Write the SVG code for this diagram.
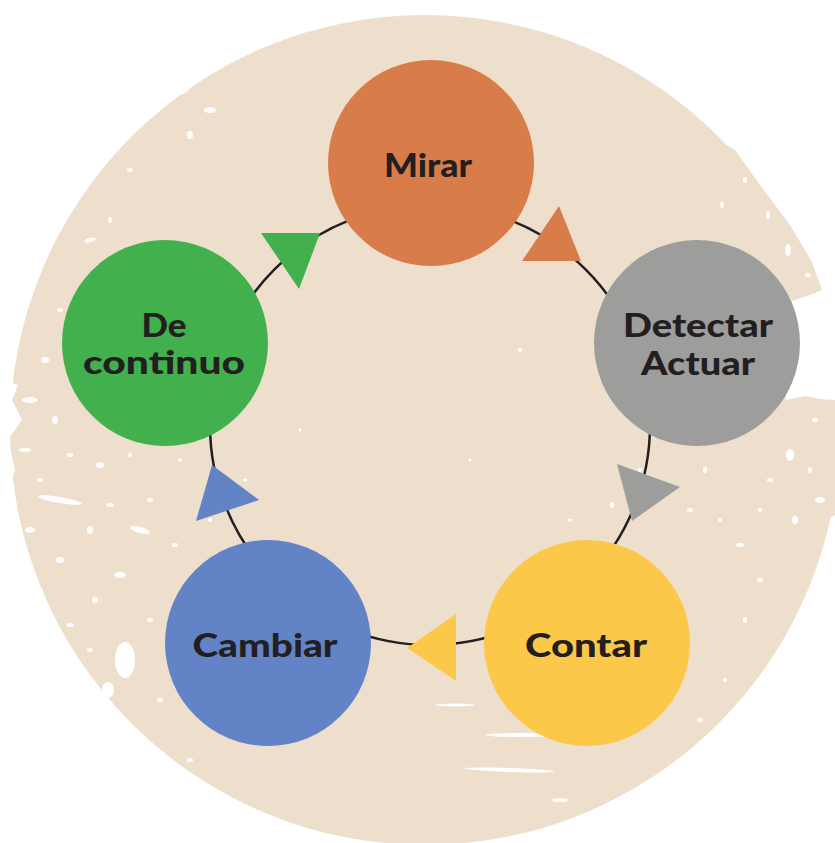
<svg xmlns="http://www.w3.org/2000/svg" width="835" height="843" viewBox="0 0 835 843">
<style>
.bg{fill:#EEDFCD}
.sp{fill:#FFFFFF}
.node circle{stroke:none}
.lbl{font-family:Lato,"Open Sans","Liberation Sans",sans-serif;font-weight:900;font-size:33px;fill:#231F20;text-anchor:middle}
.ring{fill:none;stroke:#231F20;stroke-width:2.5}
</style>
<rect width="835" height="843" fill="#FFFFFF"/>
<g id="background">
<circle class="bg" cx="425" cy="430" r="415"/>
<polygon class="bg" points="700,130 735,150 760,185 790,225 812,262 822,290 792,300 770,250"/>
<polygon class="sp" points="792,301 822,291 835,288 835,400 800,398 786,401"/>
<polygon class="bg" points="786,400 805,396 835,402 835,515 812,528 800,520"/>
<g class="sp">
<ellipse cx="788" cy="250" rx="3" ry="6"/>
<ellipse cx="768" cy="215" rx="2" ry="4"/>
<ellipse cx="808" cy="275" rx="3" ry="2"/>
<ellipse cx="745" cy="180" rx="2" ry="3"/>
<ellipse cx="760" cy="270" rx="2" ry="2"/>
<ellipse cx="780" cy="290" rx="3" ry="2"/>
<ellipse cx="722" cy="205" rx="2" ry="3"/>
<ellipse cx="815" cy="420" rx="3" ry="2"/>
<ellipse cx="790" cy="455" rx="4" ry="6"/>
<ellipse cx="810" cy="470" rx="2" ry="3"/>
<ellipse cx="770" cy="480" rx="3" ry="2"/>
<ellipse cx="820" cy="500" rx="5" ry="3"/>
<ellipse cx="760" cy="510" rx="2" ry="2"/>
<ellipse cx="795" cy="520" rx="3" ry="4"/>
<ellipse cx="740" cy="545" rx="4" ry="2"/>
<ellipse cx="705" cy="470" rx="2" ry="3"/>
<ellipse cx="690" cy="510" rx="3" ry="2"/>
<ellipse cx="720" cy="520" rx="2" ry="2"/>
<ellipse cx="760" cy="580" rx="3" ry="2"/>
<ellipse cx="745" cy="620" rx="2" ry="3"/>
<ellipse cx="700" cy="720" rx="3" ry="2"/>
<ellipse cx="725" cy="680" rx="2" ry="2"/>
<ellipse cx="640" cy="470" rx="2" ry="2"/>
<ellipse cx="612" cy="505" rx="2" ry="3"/>
<ellipse cx="570" cy="520" rx="2" ry="1.5"/>
<ellipse cx="520" cy="350" rx="2" ry="2"/>
<ellipse cx="470" cy="460" rx="1.5" ry="1.5"/>
<ellipse cx="300" cy="430" rx="1.5" ry="1.5"/>
<ellipse cx="510" cy="770" rx="45" ry="2" transform="rotate(2 510 770)"/>
<ellipse cx="520" cy="735" rx="35" ry="2"/>
<ellipse cx="455" cy="705" rx="20" ry="1.5"/>
<ellipse cx="560" cy="800" rx="8" ry="2"/>
<ellipse cx="175" cy="95" rx="14" ry="2" transform="rotate(-20 175 95)"/>
<ellipse cx="210" cy="110" rx="6" ry="3"/>
<ellipse cx="190" cy="135" rx="3" ry="4"/>
<ellipse cx="130" cy="170" rx="3" ry="2"/>
<ellipse cx="110" cy="220" rx="2" ry="3"/>
<ellipse cx="90" cy="240" rx="6" ry="2" transform="rotate(-15 90 240)"/>
<ellipse cx="60" cy="310" rx="3" ry="2"/>
<ellipse cx="45" cy="360" rx="4" ry="3"/>
<ellipse cx="30" cy="400" rx="8" ry="3"/>
<ellipse cx="55" cy="420" rx="3" ry="4"/>
<ellipse cx="25" cy="450" rx="6" ry="2"/>
<ellipse cx="70" cy="455" rx="3" ry="2"/>
<ellipse cx="100" cy="465" rx="4" ry="3"/>
<ellipse cx="40" cy="480" rx="3" ry="2"/>
<ellipse cx="130" cy="455" rx="2" ry="2"/>
<ellipse cx="60" cy="500" rx="22" ry="3" transform="rotate(10 60 500)"/>
<ellipse cx="110" cy="505" rx="4" ry="2"/>
<ellipse cx="30" cy="530" rx="5" ry="3"/>
<ellipse cx="90" cy="530" rx="3" ry="4"/>
<ellipse cx="140" cy="530" rx="10" ry="3" transform="rotate(15 140 530)"/>
<ellipse cx="60" cy="560" rx="4" ry="3"/>
<ellipse cx="120" cy="575" rx="6" ry="3"/>
<ellipse cx="40" cy="590" rx="3" ry="2"/>
<ellipse cx="95" cy="600" rx="3" ry="3"/>
<ellipse cx="150" cy="500" rx="3" ry="2"/>
<ellipse cx="175" cy="545" rx="3" ry="2"/>
<ellipse cx="70" cy="625" rx="4" ry="2"/>
<ellipse cx="125" cy="660" rx="10" ry="18"/>
<ellipse cx="108" cy="690" rx="6" ry="8"/>
<ellipse cx="150" cy="620" rx="3" ry="2"/>
<ellipse cx="90" cy="650" rx="3" ry="2"/>
<ellipse cx="160" cy="700" rx="3" ry="2"/>
<ellipse cx="190" cy="760" rx="3" ry="2"/>
<ellipse cx="210" cy="520" rx="2" ry="2"/>
<ellipse cx="245" cy="480" rx="2" ry="1.5"/>
<ellipse cx="180" cy="460" rx="2" ry="2"/>
</g>
<polygon class="sp" points="0,380 18,385 12,400 22,420 8,440 15,470 5,500 14,530 20,560 0,580"/>
</g>
<g id="connectors">
<circle class="ring" cx="430" cy="425" r="220"/>
</g>
<g id="node-mirar" class="node">
<circle cx="431" cy="163" r="103" fill="#D87C4A"/>
<text class="lbl" x="428" y="177" textLength="88" lengthAdjust="spacingAndGlyphs">Mirar</text>
</g>
<g id="node-detectar" class="node">
<circle cx="697" cy="343" r="103" fill="#9D9D9C"/>
<text class="lbl" x="698" y="337" textLength="150" lengthAdjust="spacingAndGlyphs">Detectar</text>
<text class="lbl" x="698" y="375" textLength="114" lengthAdjust="spacingAndGlyphs">Actuar</text>
</g>
<g id="node-contar" class="node">
<circle cx="587" cy="643" r="103" fill="#FBC84A"/>
<text class="lbl" x="586" y="657" textLength="122" lengthAdjust="spacingAndGlyphs">Contar</text>
</g>
<g id="node-cambiar" class="node">
<circle cx="268" cy="643" r="103" fill="#6283C5"/>
<text class="lbl" x="265" y="657" textLength="145" lengthAdjust="spacingAndGlyphs">Cambiar</text>
</g>
<g id="node-decontinuo" class="node">
<circle cx="165" cy="343" r="103" fill="#41B04D"/>
<text class="lbl" x="164" y="337" textLength="45" lengthAdjust="spacingAndGlyphs">De</text>
<text class="lbl" x="164" y="374" textLength="162" lengthAdjust="spacingAndGlyphs">continuo</text>
</g>
<g id="arrowheads">
<polygon points="261,233 320,233 299,289" fill="#41B04D"/>
<polygon points="559,206 522,261 581,261" fill="#D87C4A"/>
<polygon points="617,464 680,487 632,521" fill="#9D9D9C"/>
<polygon points="407,648 456,614 456,681" fill="#FBC84A"/>
<polygon points="212,465 259,500 196,521" fill="#6283C5"/>
</g>
</svg>
